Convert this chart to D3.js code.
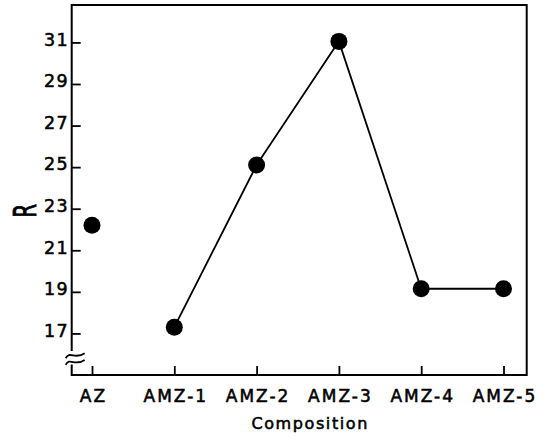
<!DOCTYPE html>
<html><head><meta charset="utf-8">
<script src="https://cdn.jsdelivr.net/npm/d3@7"></script>
<style>body{margin:0;background:#fff}</style>
</head><body><svg id="c" width="549" height="446"></svg>
<script>
const categories = ["AZ", "AMZ-1", "AMZ-2", "AMZ-3", "AMZ-4", "AMZ-5"];
const rValues = [22.2, 17.3, 25.1, 31.05, 19.15, 19.15];
const connected = [false, true, true, true, true, true];
const yTicks = [17, 19, 21, 23, 25, 27, 29, 31];
const yDomain = [15, 32.8];
const xTitle = "Composition";
const yTitle = "R";

(function () {
const FONT = "'DejaVu Sans', 'Liberation Sans', sans-serif";
const svg = d3.select("#c");
const pLeft = 71.7, pRight = 526.7, pTop = 5, pBottom = 375;
const x = d3.scalePoint().domain(categories).range([92, 503.5]);
const y = d3.scaleLinear().domain(yDomain).range([pBottom, pTop]);

function medium(sel) {
  sel.attr("font-family", FONT).attr("fill", "#000")
    .attr("stroke", "#000").attr("stroke-width", 0.55).attr("paint-order", "stroke");
}

// x axis
const gx = svg.append("g").attr("transform", `translate(0,${pBottom})`)
  .call(d3.axisBottom(x).tickSizeInner(-9).tickSizeOuter(0).tickPadding(15));
gx.select(".domain").remove();
gx.selectAll(".tick line").attr("stroke", "#000").attr("stroke-width", 1.8);
gx.selectAll(".tick text").call(medium).attr("font-size", 17)
  .attr("letter-spacing", 2).attr("dx", 1);

// y axis
const gy = svg.append("g").attr("transform", `translate(${pLeft},0)`)
  .call(d3.axisLeft(y).tickValues(yTicks).tickSizeInner(-9).tickSizeOuter(0).tickPadding(2.5));
gy.select(".domain").remove();
gy.selectAll(".tick line").attr("stroke", "#000").attr("stroke-width", 1.8);
gy.selectAll(".tick text").call(medium).attr("font-size", 17.5)
  .attr("letter-spacing", 1.5).attr("dy", "0.16em");

// frame with axis break
const yb1 = y(16.15), yb2 = y(15.5);
svg.append("path")
  .attr("d", `M${pLeft},${yb1}V${pTop}H${pRight}V${pBottom}H${pLeft}V${yb2}`)
  .attr("fill", "none").attr("stroke", "#000").attr("stroke-width", 2);
[y(15.95), y(15.63)].forEach(yy => {
  svg.append("path")
    .attr("d", `M${pLeft - 6},${yy + 3} C${pLeft - 2},${yy - 5} ${pLeft + 3},${yy + 5} ${pLeft + 13},${yy - 2}`)
    .attr("fill", "none").attr("stroke", "#000").attr("stroke-width", 1.8);
});

// line
const pts = categories.map((c, i) => ({c, v: rValues[i], on: connected[i]}));
svg.append("path")
  .datum(pts.filter(d => d.on))
  .attr("d", d3.line().x(d => x(d.c)).y(d => y(d.v)))
  .attr("fill", "none").attr("stroke", "#000").attr("stroke-width", 1.8);

// dots
svg.selectAll("circle.pt").data(pts).enter().append("circle")
  .attr("class", "pt").attr("cx", d => x(d.c)).attr("cy", d => y(d.v))
  .attr("r", 8.5).attr("fill", "#000");

// titles
svg.append("text").attr("x", (pLeft + pRight) / 2 + 11).attr("y", 428.5)
  .attr("text-anchor", "middle").call(medium).attr("font-size", 16)
  .attr("letter-spacing", 1.6).text(xTitle);

svg.append("text")
  .attr("transform", `translate(36,${y(22.9)}) rotate(-90) scale(1,1.6)`)
  .attr("text-anchor", "middle").call(medium).attr("font-size", 20)
  .text(yTitle);
})();
</script></body></html>
